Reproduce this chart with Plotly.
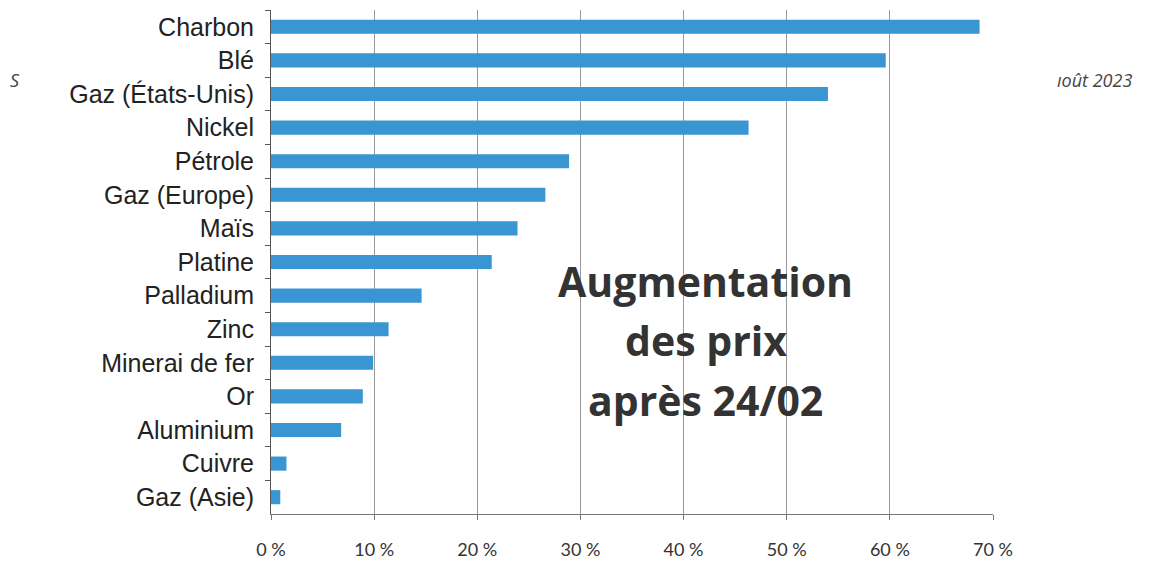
import plotly.graph_objects as go

categories = ["Charbon", "Blé", "Gaz (États-Unis)", "Nickel", "Pétrole", "Gaz (Europe)",
              "Maïs", "Platine", "Palladium", "Zinc", "Minerai de fer", "Or",
              "Aluminium", "Cuivre", "Gaz (Asie)"]
values = [68.7, 59.6, 54.0, 46.3, 28.9, 26.6, 23.9, 21.4, 14.6, 11.4, 9.9, 8.9, 6.8, 1.5, 0.9]
tick_vals = [0, 10, 20, 30, 40, 50, 60, 70]
tick_text = ["0 %", "10 %", "20 %", "30 %", "40 %", "50 %", "60 %", "70 %"]
title_lines = ["Augmentation", "des prix", "après 24/02"]

fig = go.Figure(go.Bar(
    x=values, y=categories, orientation="h",
    marker=dict(color="#3a96d2", line=dict(width=0)),
    width=0.42,
))

fig.update_layout(
    width=1152, height=567,
    margin=dict(l=263, r=167, t=2, b=61),
    paper_bgcolor="white", plot_bgcolor="white",
    showlegend=False,
    font=dict(family="Liberation Sans, Arial", color="#222"),
)
fig.update_xaxes(
    range=[0, 70], tickvals=tick_vals, ticktext=tick_text,
    showgrid=True, gridcolor="#9a9a9a", gridwidth=1,
    showline=True, linecolor="#777", linewidth=1,
    ticks="outside", ticklen=5, tickcolor="#777",
    tickfont=dict(family="Lato, Open Sans", size=18, color="#333"),
    ticklabelstandoff=14,
    zeroline=False,
)
fig.update_yaxes(
    categoryorder="array", categoryarray=categories, autorange="reversed",
    showline=True, linecolor="#555", linewidth=1,
    ticks="outside", ticklen=5, tickcolor="#555", tickson="boundaries",
    tickfont=dict(family="Liberation Sans, Arial", size=25, color="#222"),
    ticklabelstandoff=11,
    showgrid=False,
)

ys = [0.462, 0.345, 0.226]
for t, yy in zip(title_lines, ys):
    fig.add_annotation(x=0.602, y=yy, xref="paper", yref="paper", text=f"<b>{t}</b>",
                       xanchor="center", yanchor="middle", showarrow=False,
                       font=dict(family="Open Sans", size=41, color="#333"))

fig.add_annotation(x=-0.354, y=0.861, xref="paper", yref="paper", text="<i>S</i>", showarrow=False,
                   xanchor="center", yanchor="middle",
                   font=dict(family="Open Sans", size=18, color="#444"))
fig.add_annotation(x=1.140, y=0.861, xref="paper", yref="paper", text="<i>ıoût 2023</i>", showarrow=False,
                   xanchor="center", yanchor="middle",
                   font=dict(family="Open Sans", size=18, color="#444"))

fig.write_html("out.html")
